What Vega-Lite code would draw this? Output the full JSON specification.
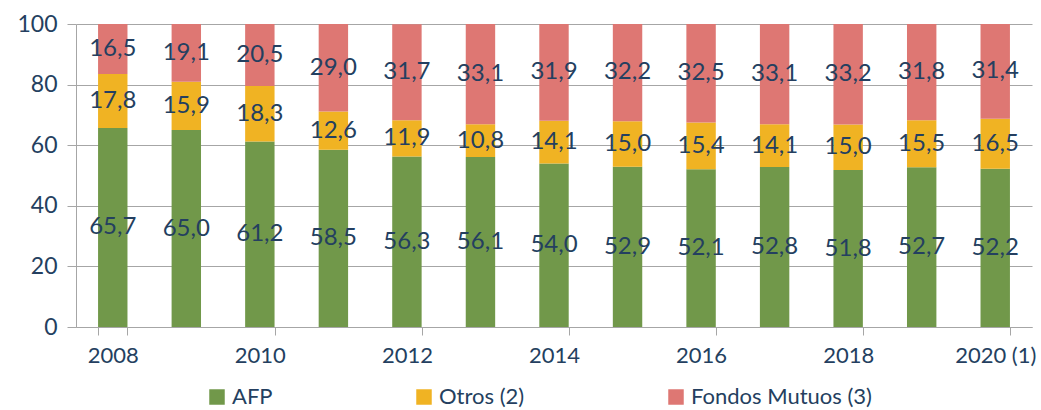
{
  "$schema": "https://vega.github.io/schema/vega-lite/v6.json",
  "autosize": "none",
  "padding": {"left": 76, "top": 24, "right": 9, "bottom": 83},
  "width": 956,
  "height": 303,
  "background": "white",
  "config": {
    "view": {"stroke": null},
    "font": "Lato",
    "locale": {"number": {"decimal": ",", "thousands": ".", "grouping": [3], "currency": ["", ""]}}
  },
  "data": {
    "values": [
      {"year": "2008", "serie": "AFP", "value": 65.7}, {"year": "2008", "serie": "Otros (2)", "value": 17.8}, {"year": "2008", "serie": "Fondos Mutuos (3)", "value": 16.5},
      {"year": "2009", "serie": "AFP", "value": 65.0}, {"year": "2009", "serie": "Otros (2)", "value": 15.9}, {"year": "2009", "serie": "Fondos Mutuos (3)", "value": 19.1},
      {"year": "2010", "serie": "AFP", "value": 61.2}, {"year": "2010", "serie": "Otros (2)", "value": 18.3}, {"year": "2010", "serie": "Fondos Mutuos (3)", "value": 20.5},
      {"year": "2011", "serie": "AFP", "value": 58.5}, {"year": "2011", "serie": "Otros (2)", "value": 12.6}, {"year": "2011", "serie": "Fondos Mutuos (3)", "value": 29.0},
      {"year": "2012", "serie": "AFP", "value": 56.3}, {"year": "2012", "serie": "Otros (2)", "value": 11.9}, {"year": "2012", "serie": "Fondos Mutuos (3)", "value": 31.7},
      {"year": "2013", "serie": "AFP", "value": 56.1}, {"year": "2013", "serie": "Otros (2)", "value": 10.8}, {"year": "2013", "serie": "Fondos Mutuos (3)", "value": 33.1},
      {"year": "2014", "serie": "AFP", "value": 54.0}, {"year": "2014", "serie": "Otros (2)", "value": 14.1}, {"year": "2014", "serie": "Fondos Mutuos (3)", "value": 31.9},
      {"year": "2015", "serie": "AFP", "value": 52.9}, {"year": "2015", "serie": "Otros (2)", "value": 15.0}, {"year": "2015", "serie": "Fondos Mutuos (3)", "value": 32.2},
      {"year": "2016", "serie": "AFP", "value": 52.1}, {"year": "2016", "serie": "Otros (2)", "value": 15.4}, {"year": "2016", "serie": "Fondos Mutuos (3)", "value": 32.5},
      {"year": "2017", "serie": "AFP", "value": 52.8}, {"year": "2017", "serie": "Otros (2)", "value": 14.1}, {"year": "2017", "serie": "Fondos Mutuos (3)", "value": 33.1},
      {"year": "2018", "serie": "AFP", "value": 51.8}, {"year": "2018", "serie": "Otros (2)", "value": 15.0}, {"year": "2018", "serie": "Fondos Mutuos (3)", "value": 33.2},
      {"year": "2019", "serie": "AFP", "value": 52.7}, {"year": "2019", "serie": "Otros (2)", "value": 15.5}, {"year": "2019", "serie": "Fondos Mutuos (3)", "value": 31.8},
      {"year": "2020 (1)", "serie": "AFP", "value": 52.2}, {"year": "2020 (1)", "serie": "Otros (2)", "value": 16.5}, {"year": "2020 (1)", "serie": "Fondos Mutuos (3)", "value": 31.4}
    ]
  },
  "transform": [
    {"calculate": "indexof(['AFP','Otros (2)','Fondos Mutuos (3)'], datum.serie)", "as": "idx"},
    {"stack": "value", "groupby": ["year"], "sort": [{"field": "idx", "order": "ascending"}], "as": ["y0", "y1"]},
    {"calculate": "(datum.y0 + datum.y1) / 2", "as": "ymid"}
  ],
  "encoding": {
    "x": {
      "field": "year", "type": "ordinal", "sort": null,
      "scale": {"paddingInner": 0.6, "paddingOuter": 0.3},
      "axis": {
        "title": null,
        "values": ["2008", "2010", "2012", "2014", "2016", "2018", "2020 (1)"],
        "labelAngle": 0,
        "tickBand": "extent",
        "tickSize": 8,
        "tickColor": "#A6A6A6",
        "domainColor": "#A6A6A6",
        "labelFontSize": 22,
        "labelColor": "#243F60",
        "labelPadding": 10,
        "grid": false
      }
    }
  },
  "layer": [
    {
      "mark": {"type": "bar"},
      "encoding": {
        "y": {
          "field": "y0", "type": "quantitative",
          "scale": {"domain": [0, 100], "nice": false, "clamp": true},
          "axis": {
            "title": null,
            "values": [0, 20, 40, 60, 80, 100],
            "grid": true,
            "gridColor": "#A6A6A6",
            "tickColor": "#A6A6A6",
            "domainColor": "#A6A6A6",
            "tickSize": 9,
            "labelFontSize": 23,
            "labelColor": "#243F60",
            "labelPadding": 10
          }
        },
        "y2": {"field": "y1"},
        "color": {
          "field": "serie", "type": "nominal",
          "scale": {"domain": ["AFP", "Otros (2)", "Fondos Mutuos (3)"], "range": ["#71984A", "#F0B323", "#DE7773"]},
          "legend": {
            "title": null,
            "orient": "none",
            "legendX": 130,
            "legendY": 362,
            "direction": "horizontal",
            "symbolType": "square",
            "symbolSize": 240,
            "symbolStrokeWidth": 0,
            "labelFontSize": 22,
            "labelColor": "#243F60",
            "labelLimit": 400,
            "columnPadding": 140
          }
        }
      }
    },
    {
      "mark": {"type": "text", "fontSize": 24, "color": "#243F60", "baseline": "middle"},
      "encoding": {
        "y": {"field": "ymid", "type": "quantitative"},
        "text": {"field": "value", "type": "quantitative", "format": ".1f"}
      }
    }
  ]
}
